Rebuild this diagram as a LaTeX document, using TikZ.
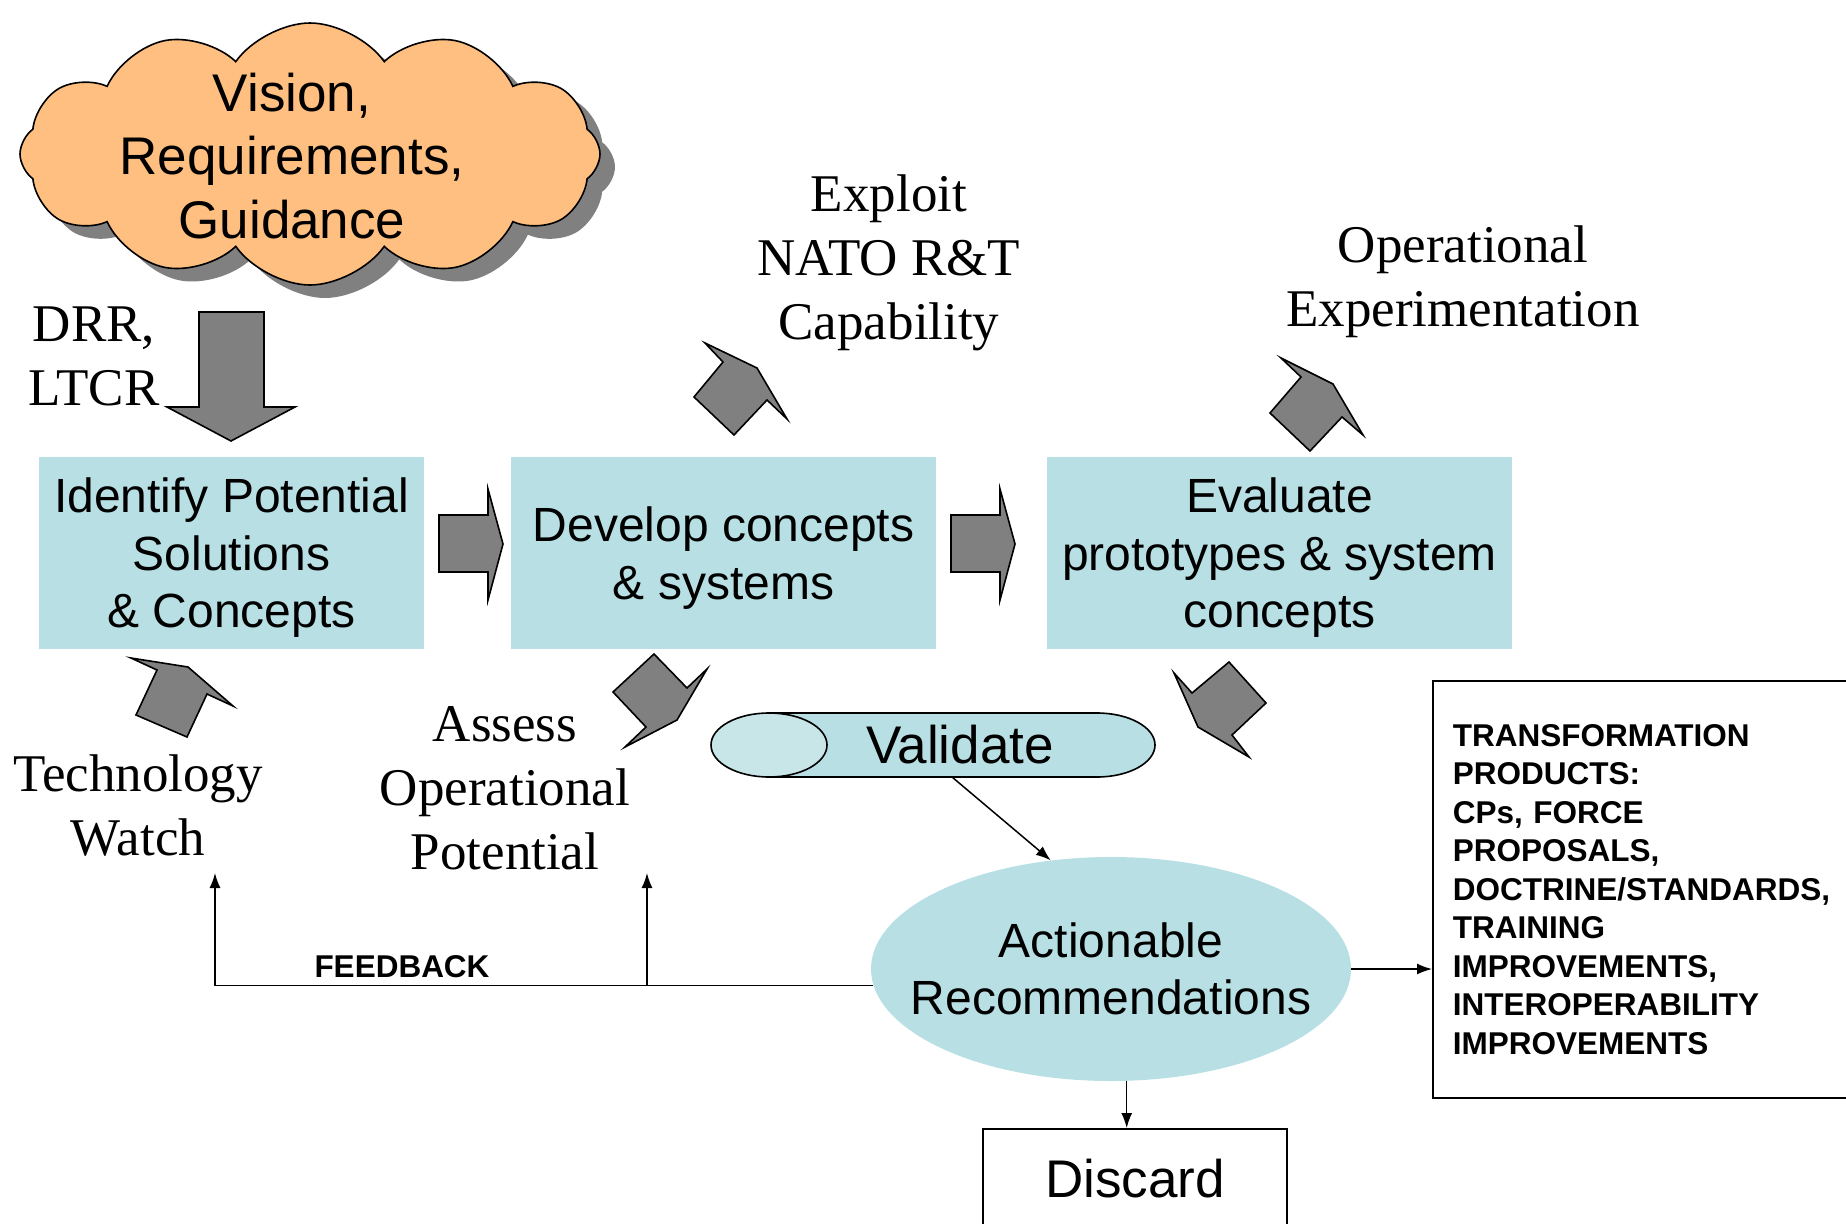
\documentclass[tikz,border=0pt]{standalone}
\usepackage{fontspec}
\setmainfont{Liberation Serif}
\setsansfont{Liberation Sans}
\usetikzlibrary{shapes.symbols,shapes.geometric,shadows,arrows.meta}
\definecolor{boxcyan}{RGB}{184,224,228}
\definecolor{capcyan}{RGB}{200,230,232}
\definecolor{cloudorange}{RGB}{255,191,128}
\definecolor{arrowgray}{RGB}{128,128,128}
\newcommand{\sansbig}{\sffamily\fontsize{53}{63.6}\selectfont}
\newcommand{\sansmid}{\sffamily\fontsize{48}{57.6}\selectfont}
\newcommand{\serifbig}{\rmfamily\fontsize{53}{64}\selectfont}
\newcommand{\sanssmall}{\sffamily\bfseries\fontsize{31.5}{38.5}\selectfont}
\tikzset{
	stepbox/.style={fill=boxcyan, minimum height=192pt, inner sep=0pt, align=center, text depth=0pt, font=\sansmid},
	blockarrow/.style={fill=arrowgray, draw=black, line width=1.6pt, line join=miter},
	tag/.style={align=center, font=\serifbig, text depth=0pt, inner sep=0pt},
	link/.style={line width=1.5pt, -{Latex[length=15pt,width=11pt]}},
}

\begin{document}
\begin{tikzpicture}[x=1pt, y=-1pt]
		%%%%% START %%%%%
		\useasboundingbox (0,0) rectangle (1846,1223);
		
		% cloud
		\node[cloud, cloud puffs=12, cloud puff arc=110, aspect=2.3, minimum width=580pt, minimum height=262pt, fill=cloudorange, draw=black, line width=1.6pt, drop shadow={shadow xshift=15pt, shadow yshift=-13pt, fill=arrowgray, opacity=1}] (vision) at (310,154) {};
		\node[font=\sansbig, align=center] (visiontext) at (292,156) {Vision,\\Requirements,\\Guidance};
		
		\draw[blockarrow] (199,312) -- (264,312) -- (264,407) -- (295,407) -- (231,441) -- (167,407) -- (199,407) -- cycle;
		\node[tag] (drr) at (94,356) {DRR,\\LTCR};
		
		% the three steps
		\node[stepbox, minimum width=385pt] (identify) at (231.5,553) {Identify Potential\\Solutions\\\& Concepts};
		\node[stepbox, minimum width=425pt] (develop) at (723.5,553) {Develop concepts\\\& systems};
		\node[stepbox, minimum width=465pt] (evaluate) at (1279.5,553) {Evaluate\\prototypes \& system\\concepts};
		
		\draw[blockarrow] (439,515) -- (488,515) -- (488,489) -- (503,544) -- (488,600) -- (488,572) -- (439,572) -- cycle;
		\draw[blockarrow] (951,515) -- (1000,515) -- (1000,489) -- (1015,544) -- (1000,600) -- (1000,572) -- (951,572) -- cycle;
		
		% slanted arrows
		\draw[blockarrow] (705,343) -- (723,362) -- (694,397) -- (734,435) -- (767,400) -- (787,419) -- (757,368) -- cycle;
		\draw[blockarrow] (1281,358) -- (1301,377) -- (1270,413) -- (1310,451) -- (1342,417) -- (1363,435) -- (1333,384) -- cycle;
		\draw[blockarrow] (1174,673) -- (1192,693) -- (1229,662) -- (1266,703) -- (1232,735) -- (1249,757) -- (1198,727) -- cycle;
		\draw[blockarrow] (613,692) -- (654,654) -- (687,688) -- (707,669) -- (677,720) -- (625,747) -- (646,727) -- cycle;
		\draw[blockarrow] (131,658) -- (188,667) -- (233,706) -- (207,694) -- (187,737) -- (136,715) -- (157,670) -- cycle;
		
		\node[tag] (exploit) at (889,257) {Exploit\\NATO R\&T\\Capability};
		\node[tag] (opexp) at (1463,276) {Operational\\Experimentation};
		\node[tag] (techwatch) at (138,805) {Technology\\Watch};
		\node[tag] (assess) at (505,788) {Assess\\Operational\\Potential};
		
		% validate
		\fill[boxcyan] (769,713) -- (1097,713) arc(-90:90:58 and 32) -- (769,777) -- cycle;
		\draw[line width=1.6pt] (769,713) -- (1097,713) arc(-90:90:58 and 32) -- (769,777);
		\draw[fill=capcyan, line width=1.6pt] (769,745) ellipse (58 and 32);
		\node[font=\sansbig] (validate) at (960,745) {Validate};
		\coordinate (valfoot) at (952,777);
		
		% results
		\node[ellipse, fill=boxcyan, minimum width=480pt, minimum height=224pt, inner sep=0pt] (actrec) at (1111,969) {};
		\node[align=center, font=\sansmid] (actrectext) at (actrec) {Actionable\\Recommendations};
		\node[draw, line width=1.6pt, anchor=north west, text width=400pt, inner xsep=20pt, minimum height=417pt, align=left, font=\sanssmall] (trans) at (1432,680) {TRANSFORMATION\\PRODUCTS:\\CPs, FORCE\\PROPOSALS,\\DOCTRINE/STANDARDS,\\TRAINING\\IMPROVEMENTS,\\INTEROPERABILITY\\IMPROVEMENTS};
		\node[draw, line width=1.6pt, anchor=north, minimum width=304pt, minimum height=100pt, font=\sansbig] (discard) at (1135,1128) {Discard};
		
		\draw[link] (valfoot) -- (actrec.119);
		\draw[link] (actrec.east) -- (actrec.east -| trans.west);
		\draw[link] (actrec.278) -- (actrec.278 |- discard.north);
		
		% feedback
		\coordinate (techtip) at (215,873);
		\coordinate (assesstip) at (647,873);
		\draw[link] (actrec.184) -| (techtip);
		\draw[link] (actrec.184 -| assesstip) -- (assesstip);
		\node[font=\sanssmall] (feedback) at (402,967) {FEEDBACK};
		
		%%%%% END %%%%%
\end{tikzpicture}
\end{document}
